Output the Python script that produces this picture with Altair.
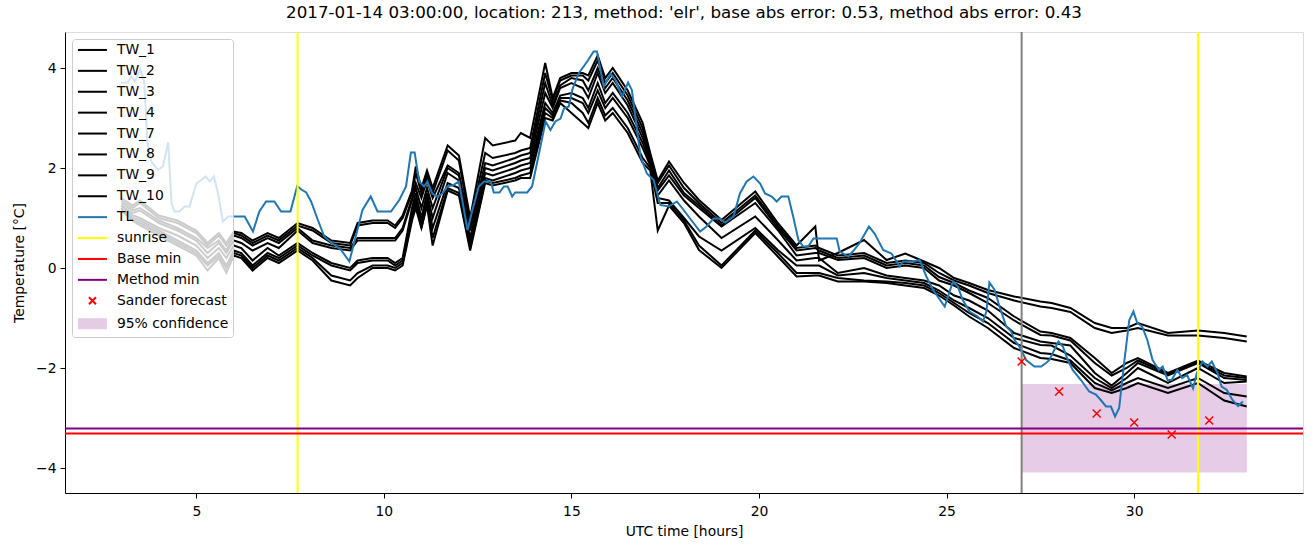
import altair as alt
import pandas as pd

TITLE = "2017-01-14 03:00:00, location: 213, method: 'elr', base abs error: 0.53, method abs error: 0.43"

# ---- observed TL (blue) ----
tl_hours = [2.99, 3.18, 3.27, 3.36, 3.51, 3.61, 3.70, 3.80, 3.98, 4.11, 4.25, 4.34, 4.42, 4.55, 4.69, 4.82,
            5.00, 5.13, 5.25, 5.36, 5.47, 5.58, 5.71, 5.85, 6.29, 6.51, 6.68, 6.86, 7.08, 7.26, 7.51, 7.69,
            7.80, 7.93, 8.06, 8.24, 8.41, 8.63, 8.86, 9.08, 9.43, 9.65, 9.83, 10.19, 10.41, 10.59, 10.72,
            10.82, 10.94, 11.07, 11.16, 11.29, 11.43, 11.56, 11.69, 11.85, 12.00, 12.23, 12.36, 12.53, 12.67,
            12.85, 12.93, 13.08, 13.20, 13.30, 13.42, 13.50, 13.82, 13.95, 14.09, 14.31, 14.44, 14.57, 14.71,
            14.80, 14.93, 15.02, 15.19, 15.42, 15.59, 15.68, 15.86, 16.04, 16.17, 16.35, 16.51, 16.61, 16.75,
            16.84, 17.01, 17.19, 17.37, 17.59, 17.81, 17.99, 18.16, 18.43, 18.60, 18.79, 18.95, 19.10, 19.32,
            19.49, 19.67, 19.85, 20.03, 20.16, 20.34, 20.47, 20.60, 20.78, 20.91, 21.05, 21.18, 21.31, 21.45,
            22.07, 22.15, 22.38, 22.50, 22.68, 22.93, 23.08, 23.31, 23.53, 23.75, 23.84, 24.10, 24.28, 24.46,
            24.64, 24.95, 25.17, 25.30, 25.43, 25.61, 25.83, 25.97, 26.06, 26.14, 26.28, 26.41, 26.59, 26.72,
            26.81, 26.94, 27.12, 27.34, 27.52, 27.65, 27.74, 27.98, 28.10, 28.23, 28.36, 28.58, 28.80, 28.98,
            29.11, 29.25, 29.38, 29.49, 29.60, 29.73, 29.87, 29.98, 30.08, 30.21, 30.35, 30.49, 30.66, 30.76,
            30.89, 31.00, 31.15, 31.28, 31.41, 31.57, 31.67, 31.82, 31.95, 32.07, 32.22, 32.33, 32.47, 32.62,
            32.77, 32.90]
tl_temp = [3.71, 3.71, 3.83, 3.73, 3.97, 3.73, 2.49, 2.13, 1.96, 2.03, 2.51, 1.29, 1.13, 1.13, 1.23, 1.23,
           1.69, 1.76, 1.83, 1.73, 1.83, 1.49, 0.93, 1.03, 1.03, 0.73, 1.13, 1.33, 1.33, 1.13, 1.13, 1.64,
           1.57, 1.51, 1.33, 0.96, 0.63, 0.49, 0.36, 0.13, 1.16, 1.43, 1.13, 1.13, 1.36, 1.63, 2.31,
           2.31, 1.73, 1.63, 1.73, 1.49, 1.43, 1.49, 1.63, 1.66, 1.73, 0.76, 1.16, 1.63, 1.73,
           1.73, 1.51, 1.51, 1.63, 1.63, 1.43, 1.51, 1.51, 1.63, 2.13, 2.93, 2.76, 2.93, 2.99,
           3.19, 3.23, 3.56, 3.89, 4.13, 4.33, 4.33, 3.63, 3.89, 3.76, 3.43, 3.71, 3.56, 2.76,
           2.23, 1.89, 1.76, 1.26, 1.23, 1.33, 1.16, 0.99, 0.73, 0.83, 0.99, 0.99, 0.91, 1.03,
           1.49, 1.73, 1.83, 1.69, 1.49, 1.43, 1.33, 1.43, 1.43, 1.03, 0.56, 0.43, 0.43, 0.59,
           0.59, 0.33, 0.23, 0.33, 0.50, 0.83, 0.69, 0.36, 0.29, 0.03, 0.13, 0.13, 0.16, -0.17,
           -0.44, -0.77, -0.27, -0.37, -0.64, -0.87, -0.97, -1.07, -0.87, -0.29, -0.44, -0.77, -1.17, -1.27,
           -1.44, -1.57, -1.84, -1.97, -1.97, -1.90, -1.84, -1.47, -1.57, -1.84, -2.04, -2.24, -2.47, -2.53,
           -2.64, -2.77, -2.77, -2.97, -2.80, -1.91, -1.04, -0.87, -1.10, -1.17, -1.44, -1.84, -2.04, -1.97,
           -2.24, -2.24, -2.04, -2.20, -2.14, -2.41, -2.10, -1.87, -1.97, -1.87, -2.10, -2.37, -2.44, -2.64,
           -2.76, -2.67]

# ---- TW stations (black) ----
tw_hours = [3.0, 3.3, 3.5, 4.0, 4.5, 5.0, 5.3, 5.6, 5.8, 6.0, 6.2, 6.5, 6.9, 7.2, 7.7, 8.1, 8.6, 9.1, 9.3, 9.7,
            10.1, 10.3, 10.5, 10.75, 10.85, 11.0, 11.15, 11.3, 11.7, 12.0, 12.3, 12.7, 12.9, 13.5, 13.65, 13.9,
            14.3, 14.5, 14.7, 15.0, 15.3, 15.45, 15.7, 15.9, 16.1, 16.5, 16.9, 17.1, 17.3, 17.6, 18.0, 18.4,
            19.0, 19.9, 20.5, 21.0, 21.5, 21.6, 22.1, 22.8, 23.4, 23.9, 24.4, 24.8, 25.2, 25.6, 26.1, 26.8,
            27.5, 27.8, 28.3, 28.95, 29.4, 29.8, 30.1, 30.9, 31.7, 32.4, 33.0]
tw_1 = [1.40, 1.25, 1.35, 1.05, 0.95, 0.75, 0.50, 0.70, 0.50, 0.73,
        0.70, 0.55, 0.70, 0.60, 0.90, 0.80, 0.55, 0.50, 0.90, 0.95,
        0.95, 0.85, 1.05, 1.55, 2.03, 1.60, 1.95, 1.60, 2.45, 2.25,
        1.00, 2.60, 2.45, 2.55, 2.70, 2.60, 4.10, 3.40, 3.80, 3.90,
        3.90, 3.85, 4.25, 3.80, 4.00, 3.55, 2.90, 2.30, 1.75, 2.13,
        1.70, 1.36, 0.96, 1.53, 0.90, 0.45, 0.83, 0.15, 0.30, 0.56,
        0.16, 0.29, 0.13, 0.00, -0.20, -0.30, -0.44, -0.57, -0.67, -0.70,
        -0.80, -1.10, -1.20, -1.20, -1.10, -1.30, -1.25, -1.30, -1.37]
tw_2 = [1.35, 1.20, 1.30, 1.00, 0.90, 0.70, 0.45, 0.65, 0.45, 0.70,
        0.65, 0.50, 0.65, 0.55, 0.85, 0.75, 0.50, 0.45, 0.85, 0.90,
        0.90, 0.80, 1.00, 1.50, 1.90, 1.50, 1.85, 1.50, 2.35, 2.15,
        0.90, 2.30, 2.20, 2.30, 2.35, 2.40, 3.90, 3.35, 3.75, 3.85,
        3.85, 3.75, 4.15, 3.70, 3.90, 3.45, 2.80, 2.25, 1.70, 2.05,
        1.60, 1.30, 0.90, 1.45, 0.85, 0.40, 0.45, 0.40, 0.25, 0.30,
        0.10, 0.15, 0.10, -0.10, -0.25, -0.35, -0.50, -0.65, -0.77, -0.80,
        -0.88, -1.20, -1.30, -1.25, -1.20, -1.35, -1.35, -1.40, -1.47]
tw_3 = [1.30, 1.15, 1.20, 0.95, 0.80, 0.60, 0.40, 0.55, 0.35, 0.65,
        0.60, 0.45, 0.60, 0.50, 0.80, 0.55, 0.45, 0.40, 0.60, 0.60,
        0.60, 0.60, 0.80, 1.40, 1.70, 1.40, 1.75, 1.40, 2.05, 1.90,
        0.80, 2.10, 2.05, 2.20, 2.25, 2.30, 3.70, 3.25, 3.65, 3.80,
        3.75, 3.55, 4.00, 3.60, 3.80, 3.35, 2.70, 2.20, 1.60, 1.95,
        1.50, 1.25, 0.85, 1.40, 0.80, 0.35, 0.40, 0.35, 0.20, 0.25,
        0.05, 0.10, 0.05, -0.18, -0.30, -0.45, -0.60, -0.97, -1.27, -1.30,
        -1.40, -1.80, -2.10, -1.90, -1.80, -2.10, -1.85, -2.10, -2.17]
tw_4 = [1.25, 1.10, 1.15, 0.90, 0.75, 0.55, 0.30, 0.50, 0.30, 0.55,
        0.50, 0.35, 0.50, 0.40, 0.75, 0.50, 0.40, 0.35, 0.55, 0.55,
        0.55, 0.55, 0.75, 1.35, 1.60, 1.20, 1.60, 1.20, 2.00, 1.85,
        0.75, 2.00, 1.95, 2.10, 2.15, 2.20, 3.50, 3.20, 3.60, 3.70,
        3.60, 3.40, 3.90, 3.50, 3.70, 3.25, 2.60, 2.15, 1.55, 1.85,
        1.45, 1.20, 0.83, 1.30, 0.76, 0.25, 0.30, 0.30, 0.16, 0.20,
        0.00, 0.05, 0.00, -0.25, -0.35, -0.50, -0.70, -1.05, -1.34, -1.35,
        -1.45, -1.90, -2.15, -2.00, -1.85, -2.12, -1.88, -2.15, -2.20]
tw_7 = [1.25, 1.05, 1.00, 0.80, 0.65, 0.45, 0.20, 0.40, 0.20, 0.45,
        0.40, 0.15, 0.40, 0.25, 0.50, 0.30, 0.10, 0.00, 0.15, 0.20,
        0.20, 0.10, 0.20, 1.20, 1.50, 1.00, 1.50, 1.00, 1.90, 1.75,
        0.60, 1.90, 1.85, 2.00, 2.05, 2.10, 3.30, 3.10, 3.45, 3.50,
        3.40, 3.20, 3.70, 3.30, 3.50, 3.10, 2.50, 2.10, 1.45, 1.75,
        1.35, 1.03, 0.60, 1.03, 0.56, 0.15, 0.20, 0.20, -0.10, 0.00,
        -0.15, -0.20, -0.25, -0.35, -0.55, -0.65, -0.85, -1.30, -1.47, -1.50,
        -1.55, -2.10, -2.35, -2.10, -1.90, -2.15, -1.90, -2.20, -2.24]
tw_8 = [1.20, 1.00, 0.95, 0.75, 0.55, 0.35, 0.10, 0.30, 0.05, 0.35,
        0.30, 0.05, 0.30, 0.20, 0.45, 0.25, 0.05, -0.05, 0.10, 0.15,
        0.15, 0.05, 0.15, 1.10, 1.40, 0.90, 1.40, 0.80, 1.70, 1.60,
        0.50, 1.80, 1.75, 1.90, 1.95, 2.00, 3.20, 3.05, 3.40, 3.40,
        3.30, 3.10, 3.55, 3.20, 3.40, 3.00, 2.40, 2.05, 1.40, 1.35,
        1.00, 0.63, 0.35, 0.80, 0.36, 0.05, 0.05, 0.05, -0.15, -0.10,
        -0.20, -0.25, -0.30, -0.45, -0.65, -0.80, -1.00, -1.40, -1.54, -1.55,
        -1.75, -2.20, -2.40, -2.20, -2.00, -2.30, -2.00, -2.30, -2.27]
tw_9 = [1.20, 0.95, 0.90, 0.70, 0.50, 0.30, 0.05, 0.25, 0.00, 0.30,
        0.25, 0.00, 0.25, 0.15, 0.40, 0.20, -0.15, -0.25, -0.10, 0.05,
        0.05, 0.00, 0.10, 1.00, 1.30, 0.80, 1.30, 0.60, 1.60, 1.50,
        0.40, 1.75, 1.70, 1.80, 1.85, 1.90, 3.10, 3.00, 3.35, 3.30,
        3.10, 2.90, 3.40, 3.05, 3.20, 2.80, 2.20, 2.00, 1.30, 1.30,
        0.95, 0.45, 0.05, 0.75, 0.30, -0.10, -0.10, -0.10, -0.20, -0.25,
        -0.27, -0.30, -0.35, -0.50, -0.70, -0.90, -1.10, -1.50, -1.70, -1.72,
        -1.85, -2.30, -2.45, -2.30, -2.20, -2.40, -2.20, -2.50, -2.57]
tw_10 = [1.15, 0.95, 0.85, 0.65, 0.45, 0.25, -0.05, 0.20, -0.10, 0.25,
         0.20, -0.05, 0.20, 0.10, 0.35, 0.15, -0.25, -0.35, -0.20, 0.00,
         0.00, -0.05, 0.05, 0.95, 1.20, 0.80, 1.25, 0.45, 1.55, 1.45,
         0.35, 1.70, 1.65, 1.75, 1.80, 1.80, 3.00, 2.95, 3.30, 3.10,
         2.90, 2.80, 3.30, 2.95, 3.10, 2.70, 2.10, 1.95, 0.75, 1.25,
         0.90, 0.36, 0.00, 0.70, 0.23, -0.17, -0.15, -0.15, -0.27, -0.27,
         -0.30, -0.35, -0.40, -0.55, -0.75, -0.97, -1.20, -1.60, -1.80, -1.82,
         -1.90, -2.40, -2.50, -2.40, -2.30, -2.50, -2.30, -2.65, -2.77]
tw_names = ["TW_1", "TW_2", "TW_3", "TW_4", "TW_7", "TW_8", "TW_9", "TW_10"]
tw_series = [tw_1, tw_2, tw_3, tw_4, tw_7, tw_8, tw_9, tw_10]

# ---- reference lines / forecast ----
sunrise_hours = [7.7, 31.7]
forecast_start = [27.0]
base_min = [-3.31]
method_min = [-3.21]
sander_hours = [27, 28, 29, 30, 31, 32]
sander_temp = [-1.87, -2.47, -2.91, -3.09, -3.33, -3.05]
conf_x = [27.0]
conf_x2 = [33.0]
conf_low = [-4.09]
conf_high = [-2.32]

legend_labels = ["TW_1", "TW_2", "TW_3", "TW_4", "TW_7", "TW_8", "TW_9", "TW_10", "TL",
                 "sunrise", "Base min", "Method min", "Sander forecast", "95% confidence"]
legend_colors = ["black"] * 8 + ["#1f77b4", "yellow", "red", "purple", "red", "#e5cce5"]

LINE = "M-1,0L4.8,0"
XMARK = "M1.2,-0.7L2.6,0.7M1.2,0.7L2.6,-0.7"
RECT = ("M-1,-0.9L4.8,-0.9M-1,-0.6L4.8,-0.6M-1,-0.3L4.8,-0.3M-1,0L4.8,0"
        "M-1,0.3L4.8,0.3M-1,0.6L4.8,0.6M-1,0.9L4.8,0.9")
legend_shapes = [LINE] * 12 + [XMARK, RECT]

# ---- data frames ----
tw_rows = []
for name, vals in zip(tw_names, tw_series):
    for h, v in zip(tw_hours, vals):
        tw_rows.append({"series": name, "hour": h, "temp": v})
tw_df = pd.DataFrame(tw_rows)
tl_df = pd.DataFrame({"hour": tl_hours, "temp": tl_temp})
sun_df = pd.DataFrame({"hour": sunrise_hours})
now_df = pd.DataFrame({"hour": forecast_start})
base_df = pd.DataFrame({"temp": base_min})
meth_df = pd.DataFrame({"temp": method_min})
sander_df = pd.DataFrame({"hour": sander_hours, "temp": sander_temp})
conf_df = pd.DataFrame({"x": conf_x, "x2": conf_x2, "lo": conf_low, "hi": conf_high})
leg_df = pd.DataFrame({"label": legend_labels})

xs = alt.Scale(domain=[1.5, 34.5], nice=False, zero=False)
ys = alt.Scale(domain=[-4.5, 4.72], nice=False, zero=False)
FONT = "DejaVu Sans"
FS = 13.9

x_axis = alt.Axis(values=[5, 10, 15, 20, 25, 30], title="UTC time [hours]", grid=False,
                  tickSize=5, labelPadding=6, titlePadding=7, labelFontSize=FS, titleFontSize=FS,
                  labelFont=FONT, titleFont=FONT, titleFontWeight="normal", labelColor="black",
                  titleColor="black", domainColor="black", tickColor="black", labelFlush=False)
y_axis = alt.Axis(values=[-4, -2, 0, 2, 4], title="Temperature [°C]", grid=False,
                  tickSize=5, labelPadding=4, titlePadding=9, labelFontSize=FS, titleFontSize=FS,
                  labelFont=FONT, titleFont=FONT, titleFontWeight="normal", labelColor="black",
                  titleColor="black", domainColor="black", tickColor="black",
                  labelExpr="replace(datum.label, '-', '\u2212')")

conf = alt.Chart(conf_df).mark_rect(color="purple", opacity=0.2).encode(
    x=alt.X("x:Q", scale=xs, axis=x_axis), x2="x2:Q",
    y=alt.Y("lo:Q", scale=ys, axis=y_axis), y2="hi:Q")

tw = alt.Chart(tw_df).mark_line(color="black", strokeWidth=2).encode(
    x=alt.X("hour:Q", scale=xs), y=alt.Y("temp:Q", scale=ys), detail="series:N")

tl = alt.Chart(tl_df).mark_line(color="#1f77b4", strokeWidth=2).encode(
    x=alt.X("hour:Q", scale=xs), y=alt.Y("temp:Q", scale=ys))

sun = alt.Chart(sun_df).mark_rule(color="yellow", strokeWidth=2).encode(x=alt.X("hour:Q", scale=xs))
now = alt.Chart(now_df).mark_rule(color="grey", strokeWidth=2).encode(x=alt.X("hour:Q", scale=xs))
base = alt.Chart(base_df).mark_rule(color="red", strokeWidth=2).encode(y=alt.Y("temp:Q", scale=ys))
meth = alt.Chart(meth_df).mark_rule(color="purple", strokeWidth=2).encode(y=alt.Y("temp:Q", scale=ys))

sander = alt.Chart(sander_df).mark_point(shape="M-1,-1L1,1M-1,1L1,-1", filled=False, color="red",
                                         size=64, strokeWidth=1.5, opacity=1).encode(
    x=alt.X("hour:Q", scale=xs), y=alt.Y("temp:Q", scale=ys))

leg = alt.Legend(title=None, orient="top-left", offset=7, padding=4,
                 fillColor="rgba(255,255,255,0.8)", strokeColor="#cccccc", cornerRadius=3,
                 symbolStrokeWidth=2, symbolSize=100, symbolOpacity=1, labelOffset=27,
                 labelFontSize=FS, labelFont=FONT, labelColor="black", rowPadding=5.9)
legend_layer = alt.Chart(leg_df).mark_point(filled=False, opacity=0).encode(
    x=alt.value(0), y=alt.value(0),
    color=alt.Color("label:N", scale=alt.Scale(domain=legend_labels, range=legend_colors), legend=leg),
    shape=alt.Shape("label:N", scale=alt.Scale(domain=legend_labels, range=legend_shapes), legend=leg))

chart = alt.layer(conf, tw, tl, sun, now, base, meth, sander, legend_layer).properties(
    width=1238, height=461,
    title=alt.TitleParams(text=TITLE, fontSize=16.7, font=FONT, fontWeight="normal", offset=8,
                          anchor="middle", color="black"),
    autosize=alt.AutoSizeParams(type="none"),
    padding={"left": 65, "top": 32, "right": 10, "bottom": 54},
).configure_view(stroke="black", strokeWidth=1).configure(background="white")

chart.save("out.html", embed_options={"renderer": "svg", "actions": False})
